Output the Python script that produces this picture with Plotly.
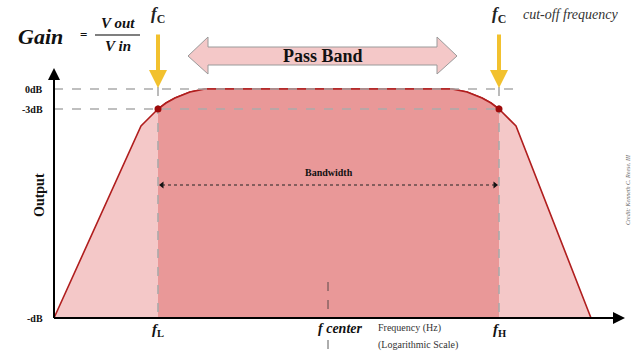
import plotly.graph_objects as go

# ---- data (x: log-frequency position units, y: output level units; origin at axis corner)
curve_x = [0, 87, 104, 112, 121, 136, 151, 398, 413, 428, 437, 445, 462, 537]
curve_y = [0, 192, 209, 215, 220, 226, 229, 229, 226, 220, 215, 209, 192, 0]
f_low = 104
f_high = 445
f_center = 274
level_0db = 229
level_3db = 209
level_axis_top = 250
x_axis_end = 571
passband_x = [134, 403]
bandwidth_y = 133
y_tick_labels = ["0dB", "-3dB", "-dB"]
y_tick_vals = [level_0db, level_3db, 0]

SERIF = "Liberation Serif, DejaVu Serif, serif"
LIGHT = "#f4c8c8"
DARK = "#e99898"
LINE = "#b01e1e"
GREY = "#aaaaaa"

fig = go.Figure()

# whole area under the response (light)
fig.add_trace(go.Scatter(x=curve_x, y=curve_y, mode="lines", fill="tozeroy",
                         fillcolor=LIGHT, line=dict(color=LINE, width=1.6),
                         hoverinfo="skip", showlegend=False))
# pass band region (dark)
band_x = [v for v in curve_x if f_low <= v <= f_high]
band_y = [curve_y[i] for i, v in enumerate(curve_x) if f_low <= v <= f_high]
fig.add_trace(go.Scatter(x=band_x, y=band_y, mode="lines", fill="tozeroy",
                         fillcolor=DARK, line=dict(color=LINE, width=1.6),
                         hoverinfo="skip", showlegend=False))

shapes = []
# grey dashed reference lines
shapes.append(dict(type="line", xref="x", yref="y", x0=0, x1=f_high + 18, y0=level_0db, y1=level_0db,
                   line=dict(color=GREY, width=1.6, dash="dash")))
shapes.append(dict(type="line", xref="x", yref="y", x0=0, x1=f_high, y0=level_3db, y1=level_3db,
                   line=dict(color=GREY, width=1.6, dash="dash")))
for fx in (f_low, f_high):
    shapes.append(dict(type="line", xref="x", yref="y", x0=fx, x1=fx, y0=level_0db + 2, y1=0,
                       line=dict(color=GREY, width=1.6, dash="dash")))
# f center dashed marker
shapes.append(dict(type="line", xref="x", yref="y", x0=f_center, x1=f_center, y0=36, y1=0,
                   line=dict(color="#333", width=0.8, dash="dash")))
shapes.append(dict(type="line", xref="x", yref="y", x0=f_center, x1=f_center, y0=-22, y1=-34,
                   line=dict(color="#333", width=0.8, dash="dash")))
# bandwidth dashed line
shapes.append(dict(type="line", xref="x", yref="y", x0=f_low + 4, x1=f_high - 4, y0=bandwidth_y, y1=bandwidth_y,
                   line=dict(color="#222", width=1.2, dash="dot")))
# axes lines
shapes.append(dict(type="line", xref="x", yref="y", x0=0, x1=0, y0=0, y1=level_axis_top - 6,
                   line=dict(color="black", width=2)))
shapes.append(dict(type="line", xref="x", yref="y", x0=0, x1=x_axis_end - 8, y0=0, y1=0,
                   line=dict(color="black", width=2)))
# pass band double arrow
a, b = passband_x
path = (f"M {a},262 L {a+20},281 L {a+20},271 L {b-20},271 L {b-20},281 L {b},262 "
        f"L {b-20},244 L {b-20},253 L {a+20},253 L {a+20},244 Z")
shapes.append(dict(type="path", xref="x", yref="y", path=path, fillcolor=LIGHT,
                   line=dict(color="#9a9a9a", width=1)))
# fraction bar
shapes.append(dict(type="line", xref="x", yref="y", x0=41, x1=86, y0=283, y1=283,
                   line=dict(color="black", width=1.2)))
# -3dB points (drawn last, above dashed lines)
for fx in (f_low, f_high):
    shapes.append(dict(type="circle", xref="x", yref="y", xsizemode="pixel", ysizemode="pixel",
                       xanchor=fx, yanchor=level_3db, x0=-3.5, x1=3.5, y0=-3.5, y1=3.5,
                       fillcolor="#9e0b0b", line=dict(color="#9e0b0b", width=0)))
fig.update_layout(shapes=shapes)

# bandwidth arrowheads
fig.add_trace(go.Scatter(x=[f_low + 4], y=[bandwidth_y], mode="markers",
                         marker=dict(symbol="triangle-left", color="#111", size=6),
                         hoverinfo="skip", showlegend=False))
fig.add_trace(go.Scatter(x=[f_high - 4], y=[bandwidth_y], mode="markers",
                         marker=dict(symbol="triangle-right", color="#111", size=6),
                         hoverinfo="skip", showlegend=False))

ann = []
# axis arrowheads
ann.append(dict(x=0, y=level_axis_top, ax=0, ay=level_axis_top - 20, xref="x", yref="y",
                axref="x", ayref="y", text="", showarrow=True, arrowhead=2, arrowsize=1.2,
                arrowwidth=2, arrowcolor="black"))
ann.append(dict(x=x_axis_end, y=0, ax=x_axis_end - 20, ay=0, xref="x", yref="y",
                axref="x", ayref="y", text="", showarrow=True, arrowhead=2, arrowsize=1.2,
                arrowwidth=2, arrowcolor="black"))
# yellow cut-off arrows
for fx in (f_low, f_high):
    ann.append(dict(x=fx, y=level_0db + 1, ax=fx, ay=285, xref="x", yref="y",
                    axref="x", ayref="y", text="", showarrow=True, arrowhead=2, arrowsize=0.9,
                    arrowwidth=4, arrowcolor="#f2c12e"))
    ann.append(dict(x=fx, y=303, text="<b><i>f</i><sub>C</sub></b>", showarrow=False,
                    font=dict(family=SERIF, size=17, color="#222")))

def txt(x, y, t, size, **kw):
    d = dict(x=x, y=y, xref="x", yref="y", text=t, showarrow=False,
             font=dict(family=SERIF, size=size, color=kw.pop("color", "#111")))
    d.update(kw)
    ann.append(d)

txt(517, 304, "<i>cut-off frequency</i>", 14, color="#333")
txt(-14, 282, "<b><i>Gain</i></b>", 22)
txt(29, 284, "<b>=</b>", 13)
txt(64, 295, "<b><i>V out</i></b>", 15)
txt(64, 272, "<b><i>V in</i></b>", 15)
txt((a + b) / 2, 262, "<b>Pass Band</b>", 18)
for lbl, v in zip(y_tick_labels, y_tick_vals):
    txt(-9, v, f"<b>{lbl}</b>", 10, xanchor="right")
txt(-15, 123, "<b>Output</b>", 14, textangle=-90)
txt((f_low + f_high) / 2, 146, "<b>Bandwidth</b>", 10)
txt(f_low, -12, "<b><i>f</i><sub>L</sub></b>", 15)
txt(f_high, -12, "<b><i>f</i><sub>H</sub></b>", 15)
txt(f_center + 12, -10, "<b><i>f center</i></b>", 14)
txt(322, -10, "Frequency (Hz)", 10, xanchor="left", color="#333")
txt(322, -27, "(Logarithmic Scale)", 10, xanchor="left", color="#333")
txt(574, 128, "<i>Credit: Kenneth C. Reese, III</i>", 6, textangle=-90, color="#666")
fig.update_layout(annotations=ann)

fig.update_layout(
    width=641, height=354, margin=dict(l=0, r=0, t=0, b=0),
    plot_bgcolor="white", paper_bgcolor="white",
    xaxis=dict(range=[-54, 587], visible=False, fixedrange=True),
    yaxis=dict(range=[-36, 318], visible=False, fixedrange=True),
)

fig.write_html("out.html", config={"displayModeBar": False},
               post_script="document.body.style.margin='0';document.body.style.overflow='hidden';")
